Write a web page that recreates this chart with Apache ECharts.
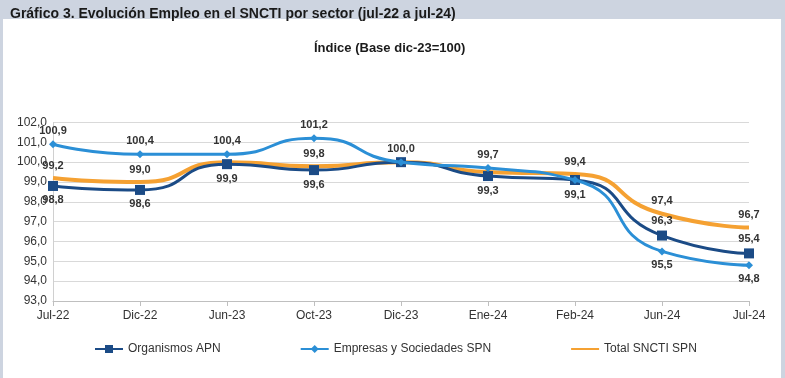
<!DOCTYPE html>
<html><head><meta charset="utf-8">
<script src="https://cdn.jsdelivr.net/npm/echarts@6/dist/echarts.min.js"></script>
<style>html,body{margin:0;padding:0;background:#cdd4e0;}#c{width:785px;height:378px;}</style>
</head><body><div id="c"></div>
<script>
const categories = ['Jul-22','Dic-22','Jun-23','Oct-23','Dic-23','Ene-24','Feb-24','Jun-24','Jul-24'];
const organismosAPN = [98.8, 98.6, 99.9, 99.6, 100.0, 99.3, 99.1, 96.3, 95.4];
const empresasSPN   = [100.9, 100.4, 100.4, 101.2, 100.0, 99.7, 99.1, 95.5, 94.8];
const totalSNCTI    = [99.2, 99.0, 100.0, 99.8, 100.0, 99.5, 99.4, 97.4, 96.7];
const seriesNames = ['Organismos APN','Empresas y Sociedades SPN','Total SNCTI SPN'];
const yTicks = {min: 93, max: 102, step: 1};

// label placement per point (null = no label)
const orgLabelPos = ['bottom','bottom','bottom','bottom',null,'bottom','bottom','top','top'];
const empLabelPos = ['top','top','top','top','top','top',null,'bottom','bottom'];
const totLabelPos = ['top','top',null,'top',null,null,'top','top','top'];

const fmt = v => v.toFixed(1).replace('.', ',');
const labelBase = {color:'#333', fontFamily:'Liberation Sans, Arial', fontSize:11, fontWeight:'bold', distance:4};
function build(vals, pos){
  return vals.map((v,i)=>({value:v, label: pos[i] ? Object.assign({show:true, position:pos[i], formatter: fmt(v)}, labelBase) : {show:false}}));
}

const chart = echarts.init(document.getElementById('c'), null, {renderer:'canvas'});
chart.setOption({
  backgroundColor:'#cdd4e0',
  animation:false,
  graphic:[{type:'rect', shape:{x:3,y:19,width:778,height:359}, style:{fill:'#ffffff'}, z:-10, silent:true}],
  title:[
    {text:'Gráfico 3. Evolución Empleo en el SNCTI por sector (jul-22 a jul-24)', left:5, top:2,
     textStyle:{fontFamily:'Liberation Sans, Arial', fontSize:14, fontWeight:'bold', color:'#1a1a1a'}},
    {text:'Índice (Base dic-23=100)', left:309, top:37,
     textStyle:{fontFamily:'Liberation Sans, Arial', fontSize:13, fontWeight:'bold', color:'#1a1a1a'}}
  ],
  legend:{
    left:89, top:338, itemGap:79, itemWidth:28, itemHeight:10,
    textStyle:{fontFamily:'Liberation Sans, Arial', fontSize:12, color:'#333'},
    data:seriesNames
  },
  grid:{left:53, right:36, top:122.5, bottom:77, containLabel:false},
  xAxis:{
    type:'category', data:categories, boundaryGap:false,
    axisLine:{lineStyle:{color:'#bfbfbf'}},
    axisTick:{show:true, length:5, lineStyle:{color:'#bfbfbf'}},
    axisLabel:{color:'#333', fontFamily:'Liberation Sans, Arial', fontSize:12, margin:9},
    splitLine:{show:false}
  },
  yAxis:{
    type:'value', min:yTicks.min, max:yTicks.max, interval:yTicks.step,
    axisLine:{show:true, lineStyle:{color:'#d0d0d0'}},
    axisTick:{show:false},
    axisLabel:{color:'#333', fontFamily:'Liberation Sans, Arial', fontSize:12, margin:6, formatter: v => fmt(v)},
    splitLine:{lineStyle:{color:'#d9d9d9', width:1}}
  },
  series:[
    {name:seriesNames[0], type:'line', smooth:0.6, data:build(organismosAPN, orgLabelPos),
     symbol:'rect', symbolSize:10, z:3,
     lineStyle:{color:'#1b4b86', width:3}, itemStyle:{color:'#1b4b86'}},
    {name:seriesNames[1], type:'line', smooth:0.6, data:build(empresasSPN, empLabelPos),
     symbol:'diamond', symbolSize:8, z:4,
     lineStyle:{color:'#2b8fd6', width:3}, itemStyle:{color:'#2b8fd6'}},
    {name:seriesNames[2], type:'line', smooth:0.6, data:build(totalSNCTI, totLabelPos),
     symbol:'circle', symbolSize:6, z:2,
     lineStyle:{color:'#f5a132', width:4}, itemStyle:{color:'rgba(0,0,0,0)'}}
  ]
});
</script></body></html>
